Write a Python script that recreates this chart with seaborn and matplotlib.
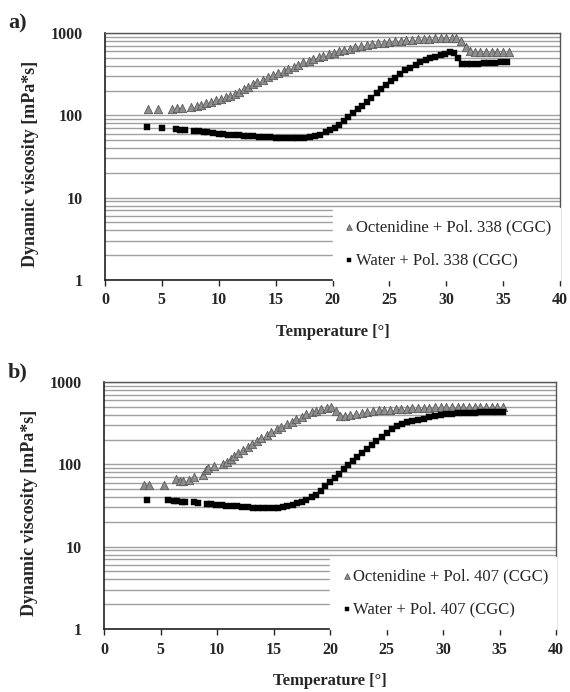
import matplotlib
matplotlib.use("Agg")
import matplotlib.pyplot as plt
import matplotlib.ticker as mticker
import seaborn as sns
import pandas as pd

# --- panel a: Pol. 338 ---
temp_a_oct = [3.8, 4.7, 5.9, 6.3, 6.8, 7.6, 8.1, 8.4, 8.9, 9.3,
              9.8, 10.2, 10.6, 11.0, 11.4, 11.8, 12.2, 12.6, 13.0, 13.4,
              13.9, 14.3, 14.8, 15.2, 15.7, 16.1, 16.6, 17.0, 17.4, 17.9,
              18.3, 18.8, 19.2, 19.7, 20.1, 20.6, 21.0, 21.5, 22.0, 22.5,
              23.0, 23.5, 24.0, 24.5, 25.0, 25.5, 26.0, 26.5, 27.0, 27.5,
              28.0, 28.5, 29.0, 29.5, 30.0, 30.5, 30.9, 31.3, 31.7, 32.1,
              32.5, 33.0, 33.5, 34.0, 34.5, 35.0, 35.5]
visc_a_oct = [118, 118, 118, 124, 124, 126, 130, 132, 143, 147,
              152, 158, 165, 172, 180, 191, 206, 220, 239, 255,
              272, 290, 308, 327, 347, 367, 388, 412, 439, 458,
              477, 505, 528, 552, 575, 598, 621, 645, 669, 690,
              708, 728, 748, 765, 780, 795, 808, 820, 830, 840,
              848, 856, 862, 868, 874, 878, 860, 790, 680, 610,
              595, 588, 585, 583, 582, 581, 581]

temp_a_wat = [3.7, 5.0, 6.2, 6.6, 7.0, 7.8, 8.3, 8.7, 9.0, 9.5,
              10.0, 10.4, 10.8, 11.3, 11.8, 12.2, 12.6, 13.0, 13.5, 14.0,
              14.5, 15.0, 15.5, 16.0, 16.5, 17.0, 17.5, 18.0, 18.5, 18.9,
              19.4, 19.8, 20.2, 20.6, 21.0, 21.4, 21.8, 22.2, 22.6, 23.0,
              23.4, 23.9, 24.3, 24.7, 25.1, 25.5, 25.9, 26.4, 26.8, 27.3,
              27.7, 28.2, 28.6, 29.0, 29.5, 29.9, 30.3, 30.7, 31.0, 31.4,
              31.8, 32.3, 32.8, 33.3, 33.8, 34.3, 34.8, 35.3]
visc_a_wat = [72, 70, 68, 67, 66.5, 65, 64, 63, 62.5, 61,
              60, 59.5, 58.5, 58, 57, 56.5, 56, 55.5, 55, 54.5,
              54, 53.5, 53, 52.5, 52.5, 53, 53, 54, 56, 58.5,
              62, 65.5, 70, 75.5, 85, 95, 106, 118, 130, 145,
              162, 185, 208, 233, 258, 285, 320, 352, 377, 410,
              439, 468, 491, 515, 539, 560, 585, 570, 500, 425,
              415, 418, 422, 428, 433, 438, 443, 447]

# --- panel b: Pol. 407 ---
temp_b_oct = [3.5, 4.0, 5.3, 6.4, 6.7, 7.0, 7.5, 8.0, 8.8, 9.0,
              9.2, 9.7, 10.5, 10.9, 11.2, 11.5, 11.9, 12.3, 12.7, 13.1,
              13.5, 13.9, 14.4, 14.8, 15.3, 15.7, 16.2, 16.6, 17.0, 17.5,
              17.9, 18.4, 18.8, 19.2, 19.7, 20.1, 20.5, 20.9, 21.3, 21.8,
              22.3, 22.8, 23.3, 23.8, 24.3, 24.8, 25.3, 25.8, 26.3, 26.8,
              27.3, 27.8, 28.3, 28.8, 29.3, 29.8, 30.3, 30.8, 31.3, 31.8,
              32.3, 32.8, 33.3, 33.8, 34.3, 34.8, 35.3]
visc_b_oct = [56.5, 56.5, 56.5, 66, 63, 62, 65, 70, 75, 85,
              90, 95, 100, 108, 116, 126, 138, 150, 163, 178,
              193, 208, 226, 245, 267, 287, 308, 330, 354, 380,
              408, 428, 447, 468, 490, 502, 440, 385, 390, 396,
              410, 425, 435, 445, 452, 458, 463, 468, 472, 476,
              480, 484, 487, 490, 492, 494, 496, 497, 498, 499,
              500, 500, 500, 500, 500, 500, 500]

temp_b_wat = [3.8, 5.7, 6.2, 6.5, 6.9, 7.2, 8.0, 8.3, 9.1, 9.5,
              9.9, 10.4, 10.8, 11.3, 11.8, 12.2, 12.7, 13.2, 13.6, 14.1,
              14.5, 15.0, 15.4, 15.8, 16.2, 16.7, 17.1, 17.5, 17.9, 18.4,
              18.8, 19.2, 19.6, 20.0, 20.4, 20.8, 21.2, 21.6, 22.0, 22.4,
              22.8, 23.3, 23.7, 24.1, 24.6, 25.0, 25.5, 25.9, 26.4, 26.8,
              27.3, 27.8, 28.3, 28.8, 29.3, 29.8, 30.3, 30.8, 31.3, 31.8,
              32.3, 32.8, 33.3, 33.8, 34.3, 34.8, 35.3]
visc_b_wat = [37.4, 36.8, 36, 35.5, 35, 35, 34.5, 34, 33, 32.8,
              32.5, 32, 31.6, 31.3, 31, 30.6, 30.1, 29.8, 29.5, 29.3,
              29.3, 29.4, 29.6, 30.2, 31, 32, 33.5, 35, 37.4, 40,
              43, 48, 54, 61, 68, 77, 87, 99, 110, 124,
              138, 155, 172, 192, 215, 240, 265, 290, 312, 328,
              340, 350, 360, 372, 385, 396, 404, 410, 415, 419,
              423, 426, 429, 431, 433, 434, 435]

sns.set_style("white")
plt.rcParams["font.family"] = ["Liberation Serif", "DejaVu Serif"]

fig = plt.figure(figsize=(5.7, 6.92), dpi=100)
W, H = 570, 692


def panel(rect_px, tag, pol, t_oct, v_oct, t_wat, v_wat):
    x0, y0, x1, y1 = rect_px
    ax = fig.add_axes([x0 / W, 1 - y1 / H, (x1 - x0) / W, (y1 - y0) / H])

    oct_df = pd.DataFrame({"T": t_oct, "eta": v_oct})
    wat_df = pd.DataFrame({"T": t_wat, "eta": v_wat})
    sns.scatterplot(data=oct_df, x="T", y="eta", ax=ax, marker="^", s=36,
                    color="#8e8e8e", edgecolor="#5a5a5a", linewidth=0.6,
                    label=f"Octenidine + Pol. {pol} (CGC)", zorder=3)
    sns.scatterplot(data=wat_df, x="T", y="eta", ax=ax, marker="s", s=16,
                    color="black", edgecolor="black", linewidth=0.3,
                    label=f"Water + Pol. {pol} (CGC)", zorder=3)

    ax.set_yscale("log")
    ax.set_ylim(1, 1000)
    ax.set_xlim(0, 40)
    ax.xaxis.set_major_locator(mticker.MultipleLocator(5))
    ax.yaxis.set_major_locator(mticker.FixedLocator([1, 10, 100, 1000]))
    ax.yaxis.set_major_formatter(mticker.FixedFormatter(["1", "10", "100", "1000"]))
    ax.yaxis.set_minor_locator(mticker.LogLocator(base=10, subs=range(2, 10)))
    ax.yaxis.set_minor_formatter(mticker.NullFormatter())
    ax.grid(True, which="both", axis="y", color="#a0a0a0", linewidth=1.0)
    ax.grid(False, axis="x")
    ax.set_axisbelow(True)

    ax.tick_params(axis="y", which="major", direction="out", length=5,
                   width=1, pad=11, labelsize=11.5)
    ax.tick_params(axis="y", which="minor", length=0)
    ax.tick_params(axis="x", direction="out", length=4, width=1, pad=5,
                   labelsize=11.5, bottom=True)
    for lab in ax.get_xticklabels() + ax.get_yticklabels():
        lab.set_fontweight("bold")
    for side in ["left", "bottom"]:
        ax.spines[side].set_color("#202020")
        ax.spines[side].set_linewidth(1.2)
    for side in ["top", "right"]:
        ax.spines[side].set_color("#555555")
        ax.spines[side].set_linewidth(1.0)

    ax.set_xlabel("Temperature [°]", fontsize=12, fontweight="bold")
    ax.set_ylabel("Dynamic viscosity [mPa*s]", fontsize=13, fontweight="bold")
    ax.xaxis.set_label_coords(0.5, -0.18)
    ax.yaxis.set_label_coords(-0.145, 0.47)

    leg = ax.legend(loc="lower left", bbox_to_anchor=(0.5, 0.0, 0.5, 0.28),
                    mode="expand", borderaxespad=0, frameon=True, fancybox=False,
                    fontsize=12, markerscale=0.6, handletextpad=0.1,
                    handlelength=0.6, labelspacing=1.0, borderpad=0.7)
    leg.get_frame().set_facecolor("white")
    leg.get_frame().set_edgecolor("white")
    leg.get_frame().set_alpha(1)
    handles = leg.legend_handles
    handles[0].set_sizes([16])
    handles[1].set_sizes([9])

    fig.text(8 / W, 1 - (y0 - 10) / H, tag, fontsize=16, fontweight="bold",
             ha="left", va="center")
    return ax


panel((105, 33, 560, 280), "a)", 338, temp_a_oct, visc_a_oct, temp_a_wat, visc_a_wat)
panel((104, 382, 556, 629), "b)", 407, temp_b_oct, visc_b_oct, temp_b_wat, visc_b_wat)

fig.savefig("out.png", dpi=100, facecolor="white")
